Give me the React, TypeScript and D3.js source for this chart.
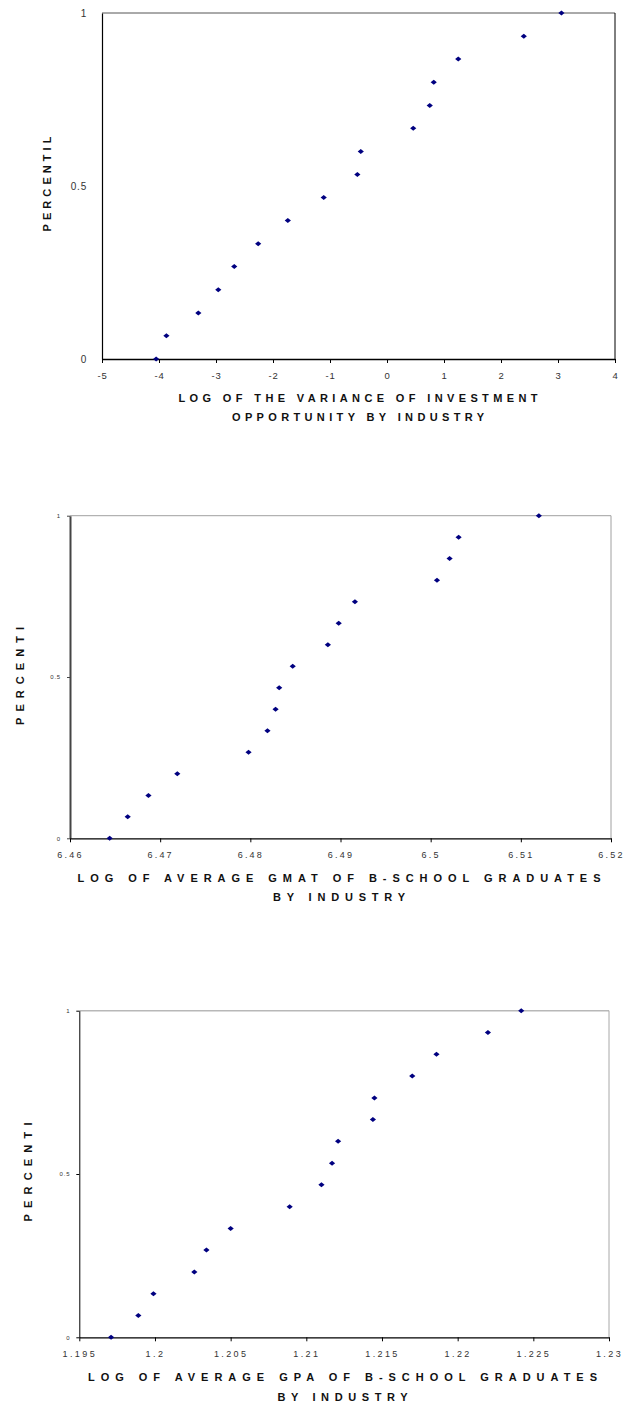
import React, { useEffect, useRef } from 'react';
import * as d3 from 'd3';

// cumulative percentile of the 16 industries (same for all three panels)
const percentiles = [0, 0.067, 0.133, 0.2, 0.267, 0.333, 0.4, 0.467, 0.533, 0.6, 0.667, 0.733, 0.8, 0.867, 0.933, 1];

// log of the variance of investment opportunity
const varianceLog = [-4.05, -3.87, -3.31, -2.96, -2.68, -2.26, -1.74, -1.11, -0.52, -0.46, 0.46, 0.75, 0.82, 1.25, 2.4, 3.06];
// log of average GMAT
const gmatLog = [6.4644, 6.4664, 6.4687, 6.4719, 6.4798, 6.4819, 6.4828, 6.4832, 6.4847, 6.4886, 6.4898, 6.4916, 6.5007, 6.5021, 6.5031, 6.512];
// log of average GPA
const gpaLog = [1.1971, 1.1989, 1.1999, 1.2026, 1.2034, 1.205, 1.2089, 1.211, 1.2117, 1.2121, 1.2144, 1.2145, 1.217, 1.2186, 1.222, 1.2242];

const varianceTicks = [-5, -4, -3, -2, -1, 0, 1, 2, 3, 4];
const gmatTicks = [6.46, 6.47, 6.48, 6.49, 6.5, 6.51, 6.52];
const gpaTicks = [1.195, 1.2, 1.205, 1.21, 1.215, 1.22, 1.225, 1.23];
const percentTicks = [0, 0.5, 1];

const varianceTitle = ['LOG OF THE VARIANCE OF INVESTMENT', 'OPPORTUNITY BY INDUSTRY'];
const gmatTitle = ['LOG OF AVERAGE GMAT OF B-SCHOOL GRADUATES', 'BY INDUSTRY'];
const gpaTitle = ['LOG OF AVERAGE GPA OF B-SCHOOL GRADUATES', 'BY INDUSTRY'];

const panels = [
    {
        xs: varianceLog, ticks: varianceTicks, title: varianceTitle, yTitle: 'PERCENTIL',
        left: 102, right: 615, top: 13, bottom: 359,
        frame: '#555', frameW: 1, rightColor: '#000', leftColor: '#000', leftW: 1.2,
        xFont: 9.5, xSpacing: 0.8, yFont: 10, ySpacing: 0.8, yPad: 15, yTick: 0,
        titleY: [397.7, 416.7], titleW: [359, 252], titleX: 358,
        yTitleX: 47, yTitleY: 184, yTitleW: 95,
    },
    {
        xs: gmatLog, ticks: gmatTicks, title: gmatTitle, yTitle: 'PERCENTI',
        left: 70, right: 611, top: 515.7, bottom: 838.3,
        frame: '#a0a0a0', frameW: 1, rightColor: '#a0a0a0', leftColor: '#444', leftW: 2,
        xFont: 9, xSpacing: 2.2, yFont: 6, ySpacing: 0.8, yPad: 9, yTick: 3,
        titleY: [878.3, 897.3], titleW: [523, 132], titleX: 339,
        yTitleX: 20, yTitleY: 676, yTitleW: 98,
    },
    {
        xs: gpaLog, ticks: gpaTicks, title: gpaTitle, yTitle: 'PERCENTI',
        left: 79.3, right: 609, top: 1010.7, bottom: 1337.3,
        frame: '#b8b8b8', frameW: 1.6, rightColor: '#a8a8a8', leftColor: '#000', leftW: 1,
        xFont: 9, xSpacing: 2.4, yFont: 6, ySpacing: 0.8, yPad: 9, yTick: 3,
        titleY: [1377.3, 1396.7], titleW: [509, 130], titleX: 342.5,
        yTitleX: 28, yTitleY: 1172, yTitleW: 99,
    },
];

const FONT = 'Liberation Sans, Arial, sans-serif';
const diamond = 'M-3.1,0L0,-2.5L3.1,0L0,2.5Z';

const App = () => {
    const svgRef = useRef(null);

    useEffect(() => {
        const svg = d3.select(svgRef.current);
        svg.selectAll('*').remove();

        panels.forEach((p) => {
            const x = d3.scaleLinear().domain([p.ticks[0], p.ticks[p.ticks.length - 1]]).range([p.left, p.right]);
            const y = d3.scaleLinear().domain([0, 1]).range([p.bottom, p.top]);
            const g = svg.append('g');

            // top and right frame lines
            g.append('line')
                .attr('x1', p.left).attr('x2', p.right)
                .attr('y1', p.top).attr('y2', p.top)
                .attr('stroke', p.frame).attr('stroke-width', p.frameW);
            g.append('line')
                .attr('x1', p.right).attr('x2', p.right)
                .attr('y1', p.top).attr('y2', p.bottom)
                .attr('stroke', p.rightColor).attr('stroke-width', 1);

            // y axis
            const yAxis = d3.axisLeft(y)
                .tickValues(percentTicks)
                .tickSizeInner(p.yTick)
                .tickSizeOuter(0)
                .tickPadding(p.yPad - p.yTick)
                .tickFormat((d) => String(d));
            const ya = g.append('g').attr('transform', `translate(${p.left},0)`).call(yAxis);
            ya.select('.domain').attr('stroke', p.leftColor).attr('stroke-width', p.leftW);
            ya.selectAll('line').attr('stroke', p.leftColor);
            ya.selectAll('text')
                .attr('font-family', FONT).attr('font-size', p.yFont)
                .attr('letter-spacing', p.ySpacing).attr('fill', '#333');

            // x axis
            const xAxis = d3.axisBottom(x)
                .tickValues(p.ticks)
                .tickSizeInner(4)
                .tickSizeOuter(0)
                .tickPadding(9.6)
                .tickFormat((d) => String(d));
            const xa = g.append('g').attr('transform', `translate(0,${p.bottom})`).call(xAxis);
            xa.select('.domain').attr('stroke', '#000').attr('stroke-width', 1.3);
            xa.selectAll('line').attr('stroke', '#000');
            xa.selectAll('text')
                .attr('font-family', FONT).attr('font-size', p.xFont)
                .attr('letter-spacing', p.xSpacing).attr('fill', '#333');

            // axis titles
            p.title.forEach((line, i) => {
                g.append('text')
                    .attr('x', p.titleX)
                    .attr('y', p.titleY[i])
                    .attr('dy', '0.35em')
                    .attr('text-anchor', 'middle')
                    .attr('font-family', FONT)
                    .attr('font-weight', 'bold')
                    .attr('font-size', 11)
                    .attr('textLength', p.titleW[i])
                    .attr('lengthAdjust', 'spacing')
                    .attr('fill', '#111')
                    .text(line);
            });
            g.append('text')
                .attr('transform', `translate(${p.yTitleX},${p.yTitleY}) rotate(-90)`)
                .attr('dy', '0.35em')
                .attr('text-anchor', 'middle')
                .attr('font-family', FONT)
                .attr('font-weight', 'bold')
                .attr('font-size', 11)
                .attr('textLength', p.yTitleW)
                .attr('lengthAdjust', 'spacing')
                .attr('fill', '#111')
                .text(p.yTitle);

            // points
            g.selectAll('.pt')
                .data(p.xs)
                .enter()
                .append('path')
                .attr('class', 'pt')
                .attr('d', diamond)
                .attr('transform', (d, i) => `translate(${x(d)},${y(percentiles[i])})`)
                .attr('fill', '#000080');
        });
    }, []);

    return (
        <svg
            ref={svgRef}
            width={624}
            height={1407}
            style={{ position: 'absolute', left: 0, top: 0, background: '#fff' }}
        ></svg>
    );
};

export default App;
